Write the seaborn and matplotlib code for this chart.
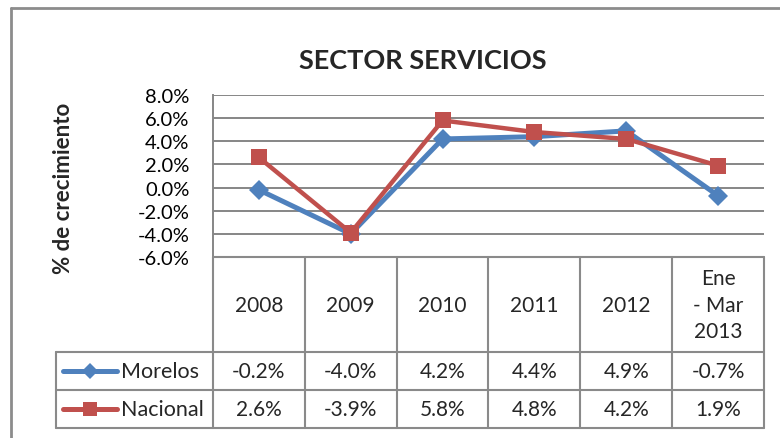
import pandas as pd
import matplotlib.pyplot as plt
import matplotlib.transforms as mtransforms
from matplotlib.lines import Line2D
from matplotlib.ticker import FuncFormatter
import seaborn as sns

# data
periodos = ['2008', '2009', '2010', '2011', '2012', 'Ene\n- Mar\n2013']
morelos = [-0.2, -4.0, 4.2, 4.4, 4.9, -0.7]
nacional = [2.6, -3.9, 5.8, 4.8, 4.2, 1.9]
series = ['Morelos', 'Nacional']
colores = {'Morelos': '#4F81BD', 'Nacional': '#C0504D'}
marcadores = {'Morelos': 'D', 'Nacional': 's'}
y_ticks = [-6, -4, -2, 0, 2, 4, 6, 8]

df = pd.DataFrame({
    'pos': list(range(len(periodos))) * 2,
    'serie': ['Morelos'] * len(periodos) + ['Nacional'] * len(periodos),
    'valor': morelos + nacional,
})

W, H = 780, 439
sns.set_style('white')
plt.rcParams['font.family'] = ['Lato', 'DejaVu Sans']

fig = plt.figure(figsize=(W / 100, H / 100), dpi=100)

def fx(px):
    return px / W

def fy(py):
    return 1 - py / H

grid_col = '#868686'

# plot area in pixels: x 213..764, y 96..258
ax = fig.add_axes([fx(213), fy(258), fx(764) - fx(213), fy(96) - fy(258)])
sns.lineplot(data=df, x='pos', y='valor', hue='serie', style='serie',
             palette=colores, markers=marcadores, dashes=False,
             linewidth=3.6, markersize=11, markeredgewidth=0,
             legend=False, ax=ax)
# bigger squares for Nacional
for line in ax.lines:
    if line.get_marker() == 's':
        line.set_markersize(12)
        line.set_linewidth(3.2)
    else:
        line.set_markersize(10)

ax.set_xlim(-0.5, len(periodos) - 0.5)
ax.set_ylim(-6, 8)
ax.set_yticks(y_ticks)
ax.yaxis.set_major_formatter(FuncFormatter(lambda v, p: f'{v:.1f}%'))
ax.set_xticks([])
ax.set_xlabel('')
ax.set_ylabel('')
ax.tick_params(axis='y', labelsize=14.5, length=0, pad=17, colors='black')
ax.grid(axis='y', color=grid_col, linewidth=1.4)
ax.set_axisbelow(True)
for s in ['top', 'right', 'bottom']:
    ax.spines[s].set_visible(False)
ax.spines['left'].set_color(grid_col)
ax.spines['left'].set_linewidth(1.4)

# titles
fig.text(fx(423), fy(61), 'SECTOR SERVICIOS', ha='center', va='center',
         fontsize=19.5, fontweight='bold')
fig.text(fx(63), fy(188), '% de crecimiento', ha='center', va='center',
         rotation=90, fontsize=16, fontweight='bold')

# outer chart frame (top and left only visible)
fig.add_artist(Line2D([fx(11), fx(780)], [fy(9), fy(9)], color='#8c8c8c', lw=2))
fig.add_artist(Line2D([fx(11), fx(11)], [fy(9), fy(439)], color='#8c8c8c', lw=2))

# data table below the plot
tr = mtransforms.blended_transform_factory(ax.transData, fig.transFigure)
n = len(periodos)
y_top, y_head, y_r1, y_r2 = 258, 353, 391, 429
tcol = '#8a8a8a'
for i in range(n + 1):
    fig.add_artist(Line2D([i - 0.5, i - 0.5], [fy(y_top), fy(y_r2)],
                          transform=tr, color=tcol, lw=1.5))
fig.add_artist(Line2D([-0.5, n - 0.5], [fy(y_top), fy(y_top)],
                      transform=tr, color=tcol, lw=1.5))
for yy in [y_head, y_r1, y_r2]:
    fig.add_artist(Line2D([fx(56), fx(764)], [fy(yy), fy(yy)], color=tcol, lw=1.5))
fig.add_artist(Line2D([fx(56), fx(56)], [fy(y_head), fy(y_r2)], color=tcol, lw=1.5))

for i, p in enumerate(periodos):
    fig.text(i, fy((y_top + y_head) / 2), p, transform=tr, ha='center',
             va='center', fontsize=15, linespacing=1.42)

rows = [(y_head, y_r1, 'Morelos', morelos), (y_r1, y_r2, 'Nacional', nacional)]
for y0, y1, nombre, vals in rows:
    yc = fy((y0 + y1) / 2)
    for i, v in enumerate(vals):
        fig.text(i, yc, f'{v:.1f}%', transform=tr, ha='center', va='center',
                 fontsize=15)
    ms = 10 if marcadores[nombre] == 's' else 8
    fig.add_artist(Line2D([fx(63), fx(117)], [yc, yc], color=colores[nombre],
                          lw=3.6, solid_capstyle='round'))
    fig.add_artist(Line2D([fx(90)], [yc], color=colores[nombre],
                          marker=marcadores[nombre], markersize=ms,
                          markeredgewidth=0))
    fig.text(fx(121), yc, nombre, ha='left', va='center', fontsize=15.5)

fig.savefig('out.png', dpi=100)
